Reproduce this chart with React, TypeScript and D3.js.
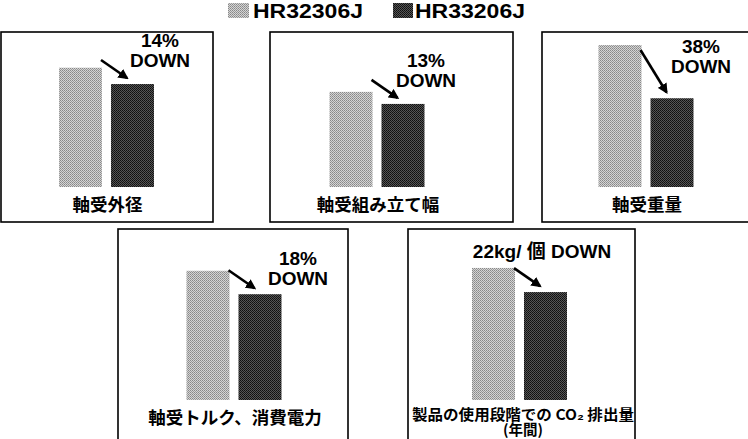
import React from "react";
import * as d3 from "d3";

// legend / series
const seriesNames = ["HR32306J", "HR33206J"];

// categories (one panel each)
const categories = [
    ["軸受外径"],
    ["軸受組み立て幅"],
    ["軸受重量"],
    ["軸受トルク、消費電力"],
    ["製品の使用段階での CO₂ 排出量", "(年間)"],
];

// relative bar heights (arbitrary units, tallest = 100)
const oldValues = [84, 67, 100, 91, 93];
const newValues = [72.5, 58.5, 62.5, 74.5, 76];

// call-out text
const callouts = [
    ["14%", "DOWN"],
    ["13%", "DOWN"],
    ["38%", "DOWN"],
    ["18%", "DOWN"],
    ["22kg/ 個 DOWN"],
];

// panel frames and call-out anchors
const panels = [
    {x: 1, y: 32, w: 212, h: 190, cx: 106.5, base: 187, tx: 160, ty: 67},
    {x: 270, y: 32, w: 243, h: 190, cx: 377, base: 187, tx: 426, ty: 87},
    {x: 542, y: 32, w: 212, h: 190, cx: 646, base: 187, tx: 701, ty: 73},
    {x: 118, y: 229, w: 230, h: 220, cx: 234, base: 400, tx: 298, ty: 285},
    {x: 408, y: 229, w: 227, h: 220, cx: 519.5, base: 400, tx: 542, ty: 258},
];

const LATIN = "'Liberation Sans', Arial, 'Noto Sans CJK JP', sans-serif";
const CJK = "'Noto Sans CJK JP', 'Liberation Sans', sans-serif";

const App: React.FC = () => {
    const width = 748;
    const height = 439;

    // common value scale for all panels
    const h = d3.scaleLinear().domain([0, 100]).range([0, 142]);

    return (
        <svg width={width} height={height} viewBox={`0 0 ${width} ${height}`}
             style={{position: "absolute", left: 0, top: 0, background: "#fff"}}>
            <defs>
                <pattern id="light" width={2} height={2} patternUnits="userSpaceOnUse">
                    <rect width={2} height={2} fill="#d4d4d4"/>
                    <rect width={1} height={1} fill="#888"/>
                    <rect x={1} y={1} width={1} height={1} fill="#9a9a9a"/>
                </pattern>
                <pattern id="dark" width={2} height={2} patternUnits="userSpaceOnUse">
                    <rect width={2} height={2} fill="#555"/>
                    <rect width={1} height={1} fill="#0e0e0e"/>
                    <rect x={1} y={1} width={1} height={1} fill="#181818"/>
                </pattern>
                <marker id="arrow" viewBox="0 0 10 10" refX={8} refY={5}
                        markerWidth={4} markerHeight={4} orient="auto" markerUnits="strokeWidth">
                    <path d="M0,0 L10,5 L0,10 z" fill="#000"/>
                </marker>
            </defs>

            {/* legend */}
            <rect x={228} y={3} width={21} height={15} fill="url(#light)"/>
            <text x={253} y={18} fontFamily={LATIN} fontWeight="bold" fontSize={20}
                  textLength={110} lengthAdjust="spacingAndGlyphs">{seriesNames[0]}</text>
            <rect x={393} y={3} width={20} height={15} fill="url(#dark)"/>
            <text x={415} y={18} fontFamily={LATIN} fontWeight="bold" fontSize={20}
                  textLength={110} lengthAdjust="spacingAndGlyphs">{seriesNames[1]}</text>

            {panels.map((p, i) => {
                const x = d3.scaleBand<string>()
                    .domain(seriesNames)
                    .range([p.cx - 47.5, p.cx + 47.5])
                    .paddingInner(0.173)
                    .paddingOuter(0);
                const bw = x.bandwidth();
                const x0 = x(seriesNames[0]) ?? 0;
                const x1 = x(seriesNames[1]) ?? 0;
                const top0 = p.base - h(oldValues[i]);
                const top1 = p.base - h(newValues[i]);
                const sy = Math.min(top0 + 5, top1 - 24);
                const lines = callouts[i];
                const labels = categories[i];
                const two = labels.length > 1;
                return (
                    <g key={i}>
                        <rect x={p.x} y={p.y} width={p.w} height={p.h}
                              fill="none" stroke="#000" strokeWidth={1.6}/>
                        <rect x={x0} y={top0} width={bw} height={h(oldValues[i])} fill="url(#light)"/>
                        <rect x={x1} y={top1} width={bw} height={h(newValues[i])} fill="url(#dark)"/>
                        <line x1={x0 + bw - 1} y1={sy} x2={x1 + 16} y2={top1 - 6}
                              stroke="#000" strokeWidth={2.6} markerEnd="url(#arrow)"/>
                        {lines.map((t, j) => (
                            <text key={j} x={p.tx} y={p.ty - (lines.length - 1 - j) * 20}
                                  textAnchor="middle" fontFamily={LATIN} fontWeight="bold"
                                  fontSize={19} fill="#000">{t}</text>
                        ))}
                        {labels.map((t, j) => (
                            <text key={j} x={p.cx + (two ? 3.5 : 1)}
                                  y={p.base + (two ? 20 : 24) + j * 15}
                                  textAnchor="middle" fontFamily={CJK} fontWeight="bold"
                                  fontSize={two ? 14.5 : 17.5} fill="#000"
                                  textLength={two && j === 0 ? 222 : undefined}
                                  lengthAdjust="spacingAndGlyphs">{t}</text>
                        ))}
                    </g>
                );
            })}
        </svg>
    );
};

export default App;
